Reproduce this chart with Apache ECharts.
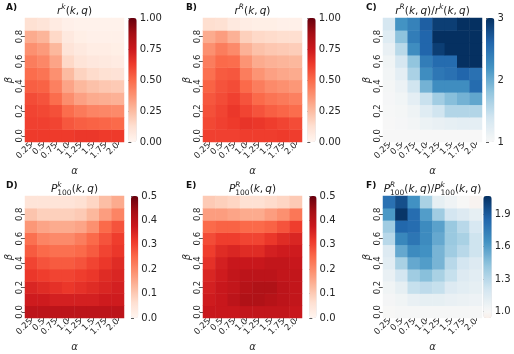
<!DOCTYPE html>
<html>
<head>
<meta charset="utf-8">
<script src="https://cdn.jsdelivr.net/npm/echarts@6/dist/echarts.min.js"></script>
<style>
html, body { margin: 0; padding: 0; background: #fff; }
#chart { width: 514px; height: 354px; }
</style>
</head>
<body>
<div id="chart"></div>
<script>
var alphas = ['0.25', '0.5', '0.75', '1.0', '1.25', '1.5', '1.75', '2.0'];
var betas = ['0.0', '0.1', '0.2', '0.3', '0.4', '0.5', '0.6', '0.7', '0.8', '0.9'];

// every table: one row per beta, from beta = 0.0 (bottom) up to 0.9 (top)
var rK = [
    [0.63, 0.63, 0.63, 0.63, 0.64, 0.64, 0.63, 0.63],
    [0.61, 0.61, 0.60, 0.55, 0.53, 0.52, 0.51, 0.50],
    [0.60, 0.59, 0.57, 0.49, 0.45, 0.42, 0.41, 0.40],
    [0.58, 0.56, 0.49, 0.39, 0.33, 0.30, 0.29, 0.28],
    [0.53, 0.52, 0.43, 0.32, 0.26, 0.23, 0.21, 0.20],
    [0.49, 0.47, 0.38, 0.25, 0.17, 0.14, 0.12, 0.11],
    [0.44, 0.41, 0.32, 0.15, 0.10, 0.08, 0.07, 0.06],
    [0.38, 0.35, 0.26, 0.10, 0.07, 0.05, 0.05, 0.04],
    [0.30, 0.27, 0.15, 0.07, 0.04, 0.03, 0.03, 0.03],
    [0.12, 0.10, 0.06, 0.03, 0.02, 0.02, 0.02, 0.02]
];
var rR = [
    [0.61, 0.61, 0.61, 0.62, 0.62, 0.62, 0.63, 0.62],
    [0.59, 0.61, 0.63, 0.65, 0.64, 0.62, 0.60, 0.58],
    [0.57, 0.60, 0.64, 0.60, 0.56, 0.53, 0.51, 0.49],
    [0.55, 0.58, 0.61, 0.56, 0.50, 0.47, 0.45, 0.43],
    [0.52, 0.56, 0.58, 0.50, 0.44, 0.40, 0.38, 0.36],
    [0.48, 0.54, 0.55, 0.44, 0.37, 0.33, 0.31, 0.30],
    [0.44, 0.50, 0.49, 0.37, 0.30, 0.28, 0.27, 0.26],
    [0.38, 0.44, 0.40, 0.28, 0.23, 0.21, 0.20, 0.19],
    [0.30, 0.34, 0.28, 0.18, 0.15, 0.14, 0.13, 0.13],
    [0.13, 0.12, 0.07, 0.05, 0.04, 0.04, 0.03, 0.03]
];
var rRatio = [
    [1.00, 1.00, 1.00, 1.00, 1.00, 1.00, 1.00, 1.00],
    [1.00, 1.02, 1.05, 1.12, 1.15, 1.18, 1.20, 1.20],
    [1.01, 1.03, 1.10, 1.25, 1.40, 1.60, 1.60, 1.60],
    [1.02, 1.06, 1.20, 1.45, 1.70, 1.85, 1.95, 2.05],
    [1.03, 1.12, 1.40, 1.95, 2.25, 2.25, 2.25, 2.55],
    [1.05, 1.20, 1.65, 2.25, 2.45, 2.50, 2.60, 2.50],
    [1.08, 1.35, 1.80, 2.40, 2.55, 2.55, 3.00, 3.00],
    [1.15, 1.55, 2.25, 2.60, 2.90, 3.00, 3.00, 3.00],
    [1.25, 1.82, 2.40, 2.60, 3.00, 3.00, 3.00, 3.00],
    [1.35, 2.20, 2.35, 2.65, 2.90, 2.90, 3.00, 3.00]
];
var pK = [
    [0.40, 0.40, 0.40, 0.40, 0.40, 0.40, 0.40, 0.40],
    [0.37, 0.37, 0.36, 0.36, 0.36, 0.36, 0.37, 0.37],
    [0.35, 0.34, 0.33, 0.32, 0.33, 0.34, 0.35, 0.36],
    [0.32, 0.31, 0.30, 0.30, 0.31, 0.32, 0.34, 0.35],
    [0.30, 0.28, 0.27, 0.27, 0.28, 0.30, 0.32, 0.34],
    [0.27, 0.25, 0.24, 0.24, 0.25, 0.27, 0.30, 0.32],
    [0.24, 0.21, 0.20, 0.20, 0.22, 0.25, 0.28, 0.31],
    [0.18, 0.16, 0.15, 0.15, 0.16, 0.19, 0.25, 0.28],
    [0.11, 0.09, 0.09, 0.09, 0.10, 0.13, 0.17, 0.21],
    [0.05, 0.05, 0.05, 0.05, 0.06, 0.08, 0.12, 0.15]
];
var pR = [
    [0.38, 0.38, 0.38, 0.39, 0.39, 0.39, 0.39, 0.38],
    [0.37, 0.38, 0.40, 0.42, 0.42, 0.41, 0.40, 0.39],
    [0.36, 0.38, 0.39, 0.41, 0.42, 0.42, 0.40, 0.39],
    [0.35, 0.37, 0.39, 0.40, 0.40, 0.40, 0.39, 0.39],
    [0.33, 0.36, 0.38, 0.38, 0.38, 0.39, 0.39, 0.38],
    [0.31, 0.34, 0.35, 0.34, 0.34, 0.36, 0.37, 0.37],
    [0.29, 0.31, 0.31, 0.30, 0.30, 0.32, 0.34, 0.35],
    [0.25, 0.26, 0.26, 0.25, 0.25, 0.26, 0.28, 0.31],
    [0.17, 0.17, 0.16, 0.15, 0.15, 0.17, 0.19, 0.23],
    [0.10, 0.09, 0.08, 0.06, 0.06, 0.07, 0.08, 0.10]
];
var pRatio = [
    [1.00, 1.01, 1.01, 1.01, 1.01, 1.01, 1.01, 1.01],
    [1.02, 1.04, 1.08, 1.10, 1.10, 1.08, 1.07, 1.06],
    [1.04, 1.10, 1.25, 1.28, 1.25, 1.15, 1.12, 1.10],
    [1.08, 1.20, 1.38, 1.45, 1.35, 1.25, 1.15, 1.12],
    [1.12, 1.35, 1.55, 1.60, 1.50, 1.30, 1.20, 1.15],
    [1.15, 1.55, 1.68, 1.65, 1.50, 1.38, 1.30, 1.22],
    [1.30, 1.70, 1.78, 1.68, 1.55, 1.40, 1.35, 1.22],
    [1.38, 1.85, 1.82, 1.68, 1.58, 1.40, 1.30, 1.18],
    [1.62, 2.05, 1.82, 1.60, 1.38, 1.20, 1.15, 1.10],
    [1.80, 1.95, 1.65, 1.35, 1.10, 1.05, 1.00, 0.97]
];

var redsTicks = [0, 0.25, 0.5, 0.75, 1.0];
var halfTicks = [0, 0.1, 0.2, 0.3, 0.4, 0.5];
var rRatioTicks = [1, 2, 3];
var pRatioTicks = [1.0, 1.3, 1.6, 1.9];

var REDS = ['#fff5f0', '#fee0d2', '#fcbba1', '#fc9272', '#fb6a4a', '#ef3b2c', '#cb181d', '#a50f15', '#67000d'];
var RDBU = ['#67001f', '#b2182b', '#d6604d', '#f4a582', '#fddbc7', '#f7f7f7', '#d1e5f0', '#92c5de', '#4393c3', '#2166ac', '#053061'];

function hex2rgb(h) {
    return [parseInt(h.substr(1, 2), 16), parseInt(h.substr(3, 2), 16), parseInt(h.substr(5, 2), 16)];
}
function sample(stops, t) {
    t = Math.max(0, Math.min(1, t));
    var p = t * (stops.length - 1), i = Math.min(Math.floor(p), stops.length - 2), f = p - i;
    var a = hex2rgb(stops[i]), b = hex2rgb(stops[i + 1]);
    return 'rgb(' + a.map(function(v, k) { return Math.round(v + (b[k] - v) * f); }).join(',') + ')';
}
// seaborn style "center" recentering of a diverging map
function centered(stops, vmin, vmax, center) {
    var vr = Math.max(vmax - center, center - vmin), out = [];
    for (var i = 0; i <= 40; i++) {
        var v = vmin + (vmax - vmin) * i / 40;
        out.push(sample(stops, 0.5 + (v - center) / (2 * vr)));
    }
    return out;
}
function plain(stops) {
    var out = [];
    for (var i = 0; i <= 40; i++) out.push(sample(stops, i / 40));
    return out;
}

var FONT = 'DejaVu Sans';
var KQ = '{n|(}{i|k}{n|,\u2009}{i|q}{n|)}';
var panels = [
    { letter: 'A)', data: rK, min: 0, max: 1, ticks: redsTicks, digits: 2, colors: plain(REDS),
      title: '{i|r}{sp|k}' + KQ,
      left: 25, top: 18, w: 99, h: 124, cb: 128.3, cbw: 8.4, lx: 6, ly: 3 },
    { letter: 'B)', data: rR, min: 0, max: 1, ticks: redsTicks, digits: 2, colors: plain(REDS),
      title: '{i|r}{sp|R}' + KQ,
      left: 203, top: 18, w: 99, h: 124, cb: 307.3, cbw: 8.4, lx: 186, ly: 3 },
    { letter: 'C)', data: rRatio, min: 1, max: 3, ticks: rRatioTicks, digits: 0, colors: centered(RDBU, 1, 3, 1),
      title: '{i|r}{sp|R}' + KQ + '{n|/}{i|r}{sp|k}' + KQ,
      left: 383, top: 18, w: 99, h: 124, cb: 486, cbw: 8.4, lx: 366, ly: 3 },
    { letter: 'D)', data: pK, min: 0, max: 0.5, ticks: halfTicks, digits: 1, colors: plain(REDS),
      title: '{i|P}{spz|k}{sb|100}' + KQ,
      left: 25, top: 196, w: 99, h: 122, cb: 131, cbw: 7.3, lx: 6, ly: 181 },
    { letter: 'E)', data: pR, min: 0, max: 0.5, ticks: halfTicks, digits: 1, colors: plain(REDS),
      title: '{i|P}{spz|R}{sb|100}' + KQ,
      left: 203, top: 196, w: 99, h: 122, cb: 309.3, cbw: 7.3, lx: 186, ly: 181 },
    { letter: 'F)', data: pRatio, min: 0.94, max: 2.07, ticks: pRatioTicks, digits: 1, colors: centered(RDBU, 0.94, 2.07, 1),
      title: '{i|P}{spz|R}{sb|100}' + KQ + '{n|/}{i|P}{spz|k}{sb|100}' + KQ,
      left: 383, top: 196, w: 99, h: 122, cb: 483.3, cbw: 8.4, lx: 366, ly: 181 }
];

// all fragments flow from the left; the whole line is still centred by the element
var rich = {
    i: { fontFamily: FONT, fontStyle: 'italic', fontSize: 10.5, lineHeight: 16, align: 'left', fill: '#1a1a1a' },
    n: { fontFamily: FONT, fontSize: 10.5, lineHeight: 16, align: 'left', fill: '#1a1a1a' },
    sp: { fontFamily: FONT, fontStyle: 'italic', fontSize: 7.5, lineHeight: 8, verticalAlign: 'top', align: 'left', fill: '#1a1a1a' },
    spz: { fontFamily: FONT, fontStyle: 'italic', fontSize: 7.5, lineHeight: 8, verticalAlign: 'top', width: 0, align: 'left', fill: '#1a1a1a' },
    sb: { fontFamily: FONT, fontSize: 7.5, lineHeight: 8, verticalAlign: 'bottom', align: 'left', fill: '#1a1a1a' }
};

var grid = [], xAxis = [], yAxis = [], series = [], visualMap = [], graphic = [];
var tickStyle = { show: true, length: 3, lineStyle: { color: '#333', width: 0.8 } };

panels.forEach(function(p, k) {
    var cells = [];
    p.data.forEach(function(row, j) {
        row.forEach(function(v, i) { cells.push([i, j, v]); });
    });
    var g = grid.length;
    grid.push({ left: p.left, top: p.top, width: p.w, height: p.h });
    xAxis.push({
        type: 'category', gridIndex: g, data: alphas,
        axisLine: { show: false }, splitLine: { show: false },
        axisTick: Object.assign({ alignWithLabel: true, interval: 0 }, tickStyle),
        axisLabel: { interval: 0, rotate: 45, margin: 2, fontSize: 8.5, fontFamily: FONT, color: '#262626' },
        name: 'α', nameLocation: 'middle', nameGap: 24,
        nameTextStyle: { fontFamily: FONT, fontStyle: 'italic', fontSize: 10, color: '#262626' }
    });
    yAxis.push({
        type: 'category', gridIndex: g, data: betas,
        axisLine: { show: false }, splitLine: { show: false },
        axisTick: Object.assign({ alignWithLabel: true, interval: 1 }, tickStyle),
        axisLabel: { interval: 1, rotate: 90, margin: 1, fontSize: 8.5, fontFamily: FONT, color: '#262626' },
        name: 'β', nameLocation: 'middle', nameGap: 10,
        nameTextStyle: { fontFamily: FONT, fontStyle: 'italic', fontSize: 10, color: '#262626' }
    });
    series.push({
        type: 'heatmap', xAxisIndex: g, yAxisIndex: g, data: cells,
        itemStyle: { borderWidth: 0 }, emphasis: { disabled: true }, animation: false
    });
    visualMap.push({
        type: 'continuous', seriesIndex: k, dimension: 2, min: p.min, max: p.max,
        inRange: { color: p.colors }, calculable: false, hoverLink: false,
        left: p.cb, top: p.top, itemWidth: p.cbw, itemHeight: p.h, padding: 0, text: null
    });

    // colorbar scale
    var c = grid.length;
    grid.push({ left: p.cb, top: p.top, width: p.cbw, height: p.h });
    xAxis.push({ type: 'value', gridIndex: c, show: false, min: 0, max: 1 });
    yAxis.push({
        type: 'value', gridIndex: c, position: 'right', min: p.min, max: p.max,
        axisLine: { show: false }, splitLine: { show: false },
        axisTick: Object.assign({ customValues: p.ticks }, tickStyle),
        axisLabel: {
            customValues: p.ticks, margin: 3, fontSize: 10, fontFamily: FONT, color: '#262626',
            formatter: function(v) { return Number(v).toFixed(p.digits); }
        }
    });

    graphic.push({
        type: 'text', x: p.left + p.w / 2, y: p.top - 15,
        style: { text: p.title, rich: rich, align: 'center', verticalAlign: 'top' }
    });
    graphic.push({
        type: 'text', x: p.lx, y: p.ly,
        style: { text: p.letter, fontFamily: FONT, fontWeight: 'bold', fontSize: 9, fill: '#111', verticalAlign: 'top' }
    });
});

var myChart = echarts.init(document.getElementById('chart'));
myChart.setOption({
    animation: false,
    grid: grid,
    xAxis: xAxis,
    yAxis: yAxis,
    visualMap: visualMap,
    series: series,
    graphic: { elements: graphic }
});
</script>
</body>
</html>
